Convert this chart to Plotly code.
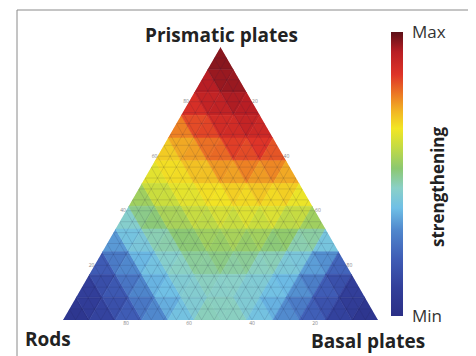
import plotly.graph_objects as go
from plotly.colors import sample_colorscale

# Vertex values on a 12-step ternary grid, rows from the top (Prismatic apex) down to the base.
# Each row runs from the Rods side (left) to the Basal side (right).
row00 = [0.98]
row01 = [0.95, 0.97]
row02 = [0.90, 0.94, 0.95]
row03 = [0.82, 0.88, 0.92, 0.92]
row04 = [0.72, 0.78, 0.84, 0.88, 0.87]
row05 = [0.66, 0.70, 0.75, 0.80, 0.80, 0.78]
row06 = [0.60, 0.65, 0.67, 0.70, 0.72, 0.72, 0.70]
row07 = [0.48, 0.56, 0.60, 0.64, 0.65, 0.66, 0.65, 0.60]
row08 = [0.38, 0.46, 0.52, 0.55, 0.57, 0.58, 0.57, 0.54, 0.50]
row09 = [0.25, 0.35, 0.42, 0.48, 0.52, 0.52, 0.50, 0.47, 0.40, 0.30]
row10 = [0.12, 0.22, 0.34, 0.42, 0.46, 0.47, 0.45, 0.42, 0.36, 0.24, 0.12]
row11 = [0.05, 0.12, 0.22, 0.33, 0.40, 0.44, 0.43, 0.40, 0.34, 0.24, 0.12, 0.05]
row12 = [0.02, 0.08, 0.14, 0.24, 0.34, 0.44, 0.50, 0.44, 0.34, 0.24, 0.14, 0.07, 0.02]
grid_rows = [row00, row01, row02, row03, row04, row05, row06, row07,
             row08, row09, row10, row11, row12]

corner_titles = ["Prismatic plates", "Rods", "Basal plates"]
bar_labels = ["Min", "Max"]
bar_title = "strengthening"
tick_positions = [0.2, 0.4, 0.6, 0.8]
tick_texts = ["20", "40", "60", "80"]

colorscale = [
    [0.00, "#2b2f86"], [0.10, "#323f9a"], [0.20, "#3f5cb5"], [0.30, "#4f86cc"],
    [0.38, "#6fbfe6"], [0.45, "#8ad0c8"], [0.52, "#8cc870"], [0.60, "#c8dc40"],
    [0.66, "#f2e624"], [0.72, "#f2b624"], [0.78, "#ec7a24"], [0.85, "#de3428"],
    [0.93, "#b81e24"], [1.00, "#5c1018"],
]

# page body adds an 8px margin; figure laid out so it lands where the reference is
W, H, OFF = 468, 348, 8


def px(x):
    return (x - OFF) / W


def py(y):
    return 1 - (y - OFF) / H


N = len(grid_rows) - 1


def vert(i, j):
    return (1 - i / N, (i - j) / N, j / N)


fig = go.Figure()
for i in range(N):
    for j in range(i + 1):
        cells = [((i, j), (i + 1, j), (i + 1, j + 1))]
        if j < i:
            cells.append(((i, j), (i, j + 1), (i + 1, j + 1)))
        for tri in cells:
            v = sum(grid_rows[r][k] for r, k in tri) / 3
            col = sample_colorscale(colorscale, [v])[0]
            pts = [vert(r, k) for r, k in tri] + [vert(*tri[0])]
            fig.add_trace(go.Scatterternary(
                a=[p[0] for p in pts], b=[p[1] for p in pts], c=[p[2] for p in pts],
                mode="lines", fill="toself", fillcolor=col,
                line=dict(color=col, width=0.6), hoverinfo="skip", showlegend=False))

# fine mesh drawn over the cells (like the reference's triangulation lines)
M = 25
ma, mb, mc = [], [], []
for k in range(1, M):
    t = k / M
    for seg in [((t, 1 - t, 0), (t, 0, 1 - t)),
                ((1 - t, t, 0), (0, t, 1 - t)),
                ((1 - t, 0, t), (0, 1 - t, t))]:
        for p in seg:
            ma.append(p[0]); mb.append(p[1]); mc.append(p[2])
        ma.append(None); mb.append(None); mc.append(None)
fig.add_trace(go.Scatterternary(a=ma, b=mb, c=mc, mode="lines", hoverinfo="skip",
                                showlegend=False, connectgaps=False,
                                line=dict(color="rgba(30,30,70,0.22)", width=0.6)))

fig.add_trace(go.Scatterternary(
    a=[0.34], b=[0.33], c=[0.33], mode="markers", hoverinfo="skip", showlegend=False,
    marker=dict(size=0.1, opacity=0, color=[0.5], colorscale=colorscale, cmin=0, cmax=1,
                showscale=True,
                colorbar=dict(x=px(391), xanchor="left", thickness=12, xpad=0, ypad=0,
                              y=py(174), yanchor="middle", len=284 / H,
                              lenmode="fraction", outlinewidth=0,
                              tickmode="array", tickvals=[0, 1], ticktext=bar_labels,
                              ticks="outside", ticklen=6, tickcolor="rgba(0,0,0,0)",
                              tickfont=dict(family="Open Sans", size=17, color="#333")))))

fine_vals = [k / 25 for k in range(1, 25)]
fine_text = [tick_texts[tick_positions.index(round(t, 2))] if round(t, 2) in tick_positions else ""
             for t in fine_vals]
axis_style = dict(title=dict(text=""), showline=False, showgrid=False,
                  tickmode="array", tickvals=fine_vals, ticktext=fine_text, ticks="",
                  tickfont=dict(family="Open Sans", size=5, color="#888"), min=0)

title_font = dict(family="Open Sans", size=19, color="#222")
ann = dict(xref="paper", yref="paper", showarrow=False, xanchor="center", yanchor="middle")
fig.update_layout(
    width=W, height=H, margin=dict(l=0, r=0, t=0, b=0),
    paper_bgcolor="white", plot_bgcolor="white",
    ternary=dict(domain=dict(x=[px(63), px(378)], y=[py(320), py(47)]),
                 bgcolor="white", sum=1,
                 aaxis=axis_style, baxis=axis_style, caxis=axis_style),
    shapes=[dict(type="rect", xref="paper", yref="paper", x0=px(17), x1=px(470),
                 y0=-0.1, y1=py(10), line=dict(color="#8a8a8a", width=1))],
    annotations=[
        dict(text="<b>" + corner_titles[0] + "</b>", x=px(221), y=py(35), font=title_font, **ann),
        dict(text="<b>" + corner_titles[1] + "</b>", x=px(48), y=py(339), font=title_font, **ann),
        dict(text="<b>" + corner_titles[2] + "</b>", x=px(368), y=py(341), font=title_font, **ann),
        dict(text="<b>" + bar_title + "</b>", x=px(437), y=py(187), textangle=-90,
             font=dict(family="Open Sans", size=17, color="#222"), **ann),
    ],
)

fig.write_html("out.html")
